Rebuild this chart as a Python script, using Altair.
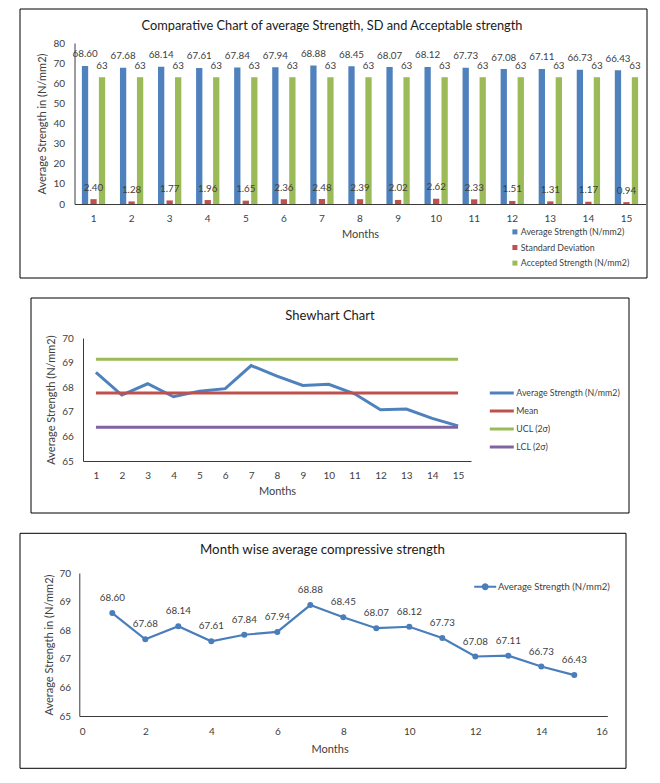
import altair as alt
import pandas as pd

FONT = "Lato"
TXT = "#404040"

months = [1, 2, 3, 4, 5, 6, 7, 8, 9, 10, 11, 12, 13, 14, 15]
avg_strength = [68.60, 67.68, 68.14, 67.61, 67.84, 67.94, 68.88, 68.45,
                68.07, 68.12, 67.73, 67.08, 67.11, 66.73, 66.43]
std_dev = [2.40, 1.28, 1.77, 1.96, 1.65, 2.36, 2.48, 2.39,
           2.02, 2.62, 2.33, 1.51, 1.31, 1.17, 0.94]
accepted_strength = [63, 63, 63, 63, 63, 63, 63, 63, 63, 63, 63, 63, 63, 63, 63]

series1 = ["Average Strength (N/mm2)", "Standard Deviation", "Accepted Strength (N/mm2)"]
colors1 = ["#4F81BD", "#C0504D", "#9BBB59"]

shewhart_names = ["Average Strength (N/mm2)", "Mean", "UCL (2σ)", "LCL (2σ)"]
shewhart_colors = ["#4F81BD", "#C0504D", "#9BBB59", "#8064A2"]
limit_values = [67.76, 69.14, 66.37]  # Mean, UCL, LCL

titles = ["Comparative Chart of average Strength, SD and Acceptable strength",
          "Shewhart Chart",
          "Month wise average compressive strength"]
y_ticks1 = [0, 10, 20, 30, 40, 50, 60, 70, 80]
y_ticks23 = [65, 66, 67, 68, 69, 70]
x_ticks3 = [0, 2, 4, 6, 8, 10, 12, 14, 16]

# ---------- tables ----------
rows = []
for i, m in enumerate(months):
    rows.append({"month": m, "series": series1[0], "value": avg_strength[i], "label": f"{avg_strength[i]:.2f}"})
    rows.append({"month": m, "series": series1[1], "value": std_dev[i], "label": f"{std_dev[i]:.2f}"})
    rows.append({"month": m, "series": series1[2], "value": accepted_strength[i], "label": f"{accepted_strength[i]:d}"})
df1 = pd.DataFrame(rows)

df2_avg = pd.DataFrame({"month": months, "value": avg_strength, "series": shewhart_names[0]})
lim_rows = []
for name, v in zip(shewhart_names[1:], limit_values):
    lim_rows.append({"month": months[0], "value": v, "series": name})
    lim_rows.append({"month": months[-1], "value": v, "series": name})
df2_lim = pd.DataFrame(lim_rows)

df3 = pd.DataFrame({"month": months, "value": avg_strength,
                    "label": [f"{v:.2f}" for v in avg_strength],
                    "series": "Average Strength (N/mm2)"})

one = pd.DataFrame({"k": [0]})


def box(x1, x2, y1, y2):
    return alt.Chart(one).mark_rect(fill="transparent", stroke="#000000", strokeWidth=1).encode(
        x=alt.value(x1), x2=alt.value(x2), y=alt.value(y1), y2=alt.value(y2))


def title_text(txt, x, y, size=13):
    return alt.Chart(one).mark_text(text=txt, font=FONT, fontSize=size, color="#1a1a1a",
                                    align="center", baseline="middle").encode(
        x=alt.value(x), y=alt.value(y))


def axis(title, orient, title_pos, label_pad, **kw):
    common = dict(title=title, grid=False, ticks=False, tickSize=0, domain=True,
                  domainColor="#3a3a3a", domainWidth=1,
                  labelFont=FONT, labelFontSize=10, labelColor=TXT, labelPadding=label_pad,
                  titleFont=FONT, titleFontSize=11, titleFontWeight="normal", titleColor=TXT,
                  titleBaseline="middle")
    if orient == "x":
        common.update(labelAngle=0, labelBaseline="middle", titleX=title_pos[0], titleY=title_pos[1])
    else:
        common.update(titleX=title_pos[0], titleY=title_pos[1], titleAngle=-90)
    common.update(kw)
    return alt.Axis(**common)


# All three panels share the same left origin in the column layout; each panel's
# plot area is shifted right inside its own view by D (pixels).

# ---------- panel 1 ----------
W1, H1 = 571, 161
x1 = alt.X("month:O", scale=alt.Scale(paddingInner=0.33, paddingOuter=0.165),
           axis=axis("Months", "x", (W1 / 2, 30), 14))
y1 = alt.Y("value:Q", scale=alt.Scale(domain=[0, 80]),
           axis=axis("Average Strength in (N/mm2)", "y", (-32, H1 / 2), 10, values=y_ticks1))
xo1 = alt.XOffset("series:N", sort=series1, scale=alt.Scale(paddingInner=0.26, paddingOuter=0.13))
bars1 = alt.Chart(df1).mark_bar().encode(
    x=x1, xOffset=xo1, y=y1,
    color=alt.Color("series:N", sort=series1, scale=alt.Scale(domain=series1, range=colors1),
                    legend=alt.Legend(title=None, orient="none", legendX=436, legendY=184.5,
                                      symbolType="square", symbolSize=25, symbolStrokeWidth=0,
                                      labelFont=FONT, labelFontSize=8.8, labelColor=TXT,
                                      labelOffset=1.5, rowPadding=5.6, padding=0)))
labels1 = alt.Chart(df1).mark_text(font=FONT, fontSize=9.8, color=TXT, baseline="middle",
                                   dy=-11.5).encode(x=x1, xOffset=xo1, y=y1, text="label:N")
p1 = alt.layer(box(-54.5, 572.5, -34, 235), title_text(titles[0], 257.5, -17.5, 12.8),
               bars1, labels1).properties(width=W1, height=H1)

# ---------- panel 2 ----------
W2, H2, D2 = 388, 123, 8.5
x2 = alt.X("month:O", scale=alt.Scale(range=[D2, D2 + W2]),
           axis=axis("Months", "x", (D2 + W2 / 2, 30), 14))
y2 = alt.Y("value:Q", scale=alt.Scale(domain=[65, 70]),
           axis=axis("Average Strength (N/mm2)", "y", (-31.3, H2 / 2), 9.6, values=y_ticks23, offset=-D2))
col2 = alt.Color("series:N", sort=shewhart_names,
                 scale=alt.Scale(domain=shewhart_names, range=shewhart_colors),
                 legend=alt.Legend(title=None, orient="none", legendX=411.3 + D2, legendY=47.5,
                                   symbolType="M-2,0H2", symbolSize=144, symbolStrokeWidth=3,
                                   labelFont=FONT, labelFontSize=8.8, labelColor=TXT,
                                   labelOffset=7, rowPadding=4, padding=0))
line2 = alt.Chart(df2_avg).mark_line(strokeWidth=3).encode(x=x2, y=y2, color=col2)
lim2 = alt.Chart(df2_lim).mark_line(strokeWidth=3).encode(x=x2, y=y2, color=col2, detail="series:N")
p2 = alt.layer(box(-52 + D2, 546 + D2, -40, 175),
               title_text(titles[1], 247 + D2, -22.5, 13), line2, lim2).properties(width=W2 + D2, height=H2)

# ---------- panel 3 ----------
W3, H3, D3 = 528, 143, 4.8
x3 = alt.X("month:Q", scale=alt.Scale(domain=[0, 16], nice=False, range=[D3, D3 + W3]),
           axis=axis("Months", "x", (250.3 + D3, 33), 15, values=x_ticks3))
y3 = alt.Y("value:Q", scale=alt.Scale(domain=[65, 70]),
           axis=axis("Average Strength in (N/mm2)", "y", (-29.6, H3 / 2), 8.7, values=y_ticks23, offset=-D3))
col3 = alt.Color("series:N", scale=alt.Scale(domain=["Average Strength (N/mm2)"], range=["#4A7EBB"]),
                 legend=alt.Legend(title=None, orient="none", legendX=399.4 + D3, legendY=7.3,
                                   symbolType="M-2,0H2M-0.45,0A0.45,0.45,0,1,0,0.45,0A0.45,0.45,0,1,0,-0.45,0Z",
                                   symbolSize=121, symbolStrokeWidth=2, symbolFillColor="#4A7EBB",
                                   labelFont=FONT, labelFontSize=9.5, labelColor=TXT,
                                   labelOffset=6.3, padding=0))
line3 = alt.Chart(df3).mark_line(strokeWidth=2.2).encode(x=x3, y=y3, color=col3)
pts3 = alt.Chart(df3).mark_circle(size=36, opacity=1, color="#4A7EBB").encode(x=x3, y=y3)
lab3 = alt.Chart(df3).mark_text(font=FONT, fontSize=9.8, color=TXT, baseline="middle", dy=-15).encode(
    x=x3, y=y3, text="label:N")
p3 = alt.layer(box(-59.3 + D3, 546.7 + D3, -39.7, 195.3), title_text(titles[2], 243.2 + D3, -23, 13.3),
               line3, pts3, lab3).properties(width=W3 + D3, height=H3)

chart = alt.vconcat(p1, p2, p3, spacing=18).resolve_scale(
    x="independent", y="independent", color="independent").resolve_legend(
    color="independent").properties(
    padding={"left": 11.5, "top": 0, "right": 0, "bottom": 0}, background="white"
).configure_view(strokeWidth=0)

chart.save("out.html", embed_options={"renderer": "svg", "actions": False})
